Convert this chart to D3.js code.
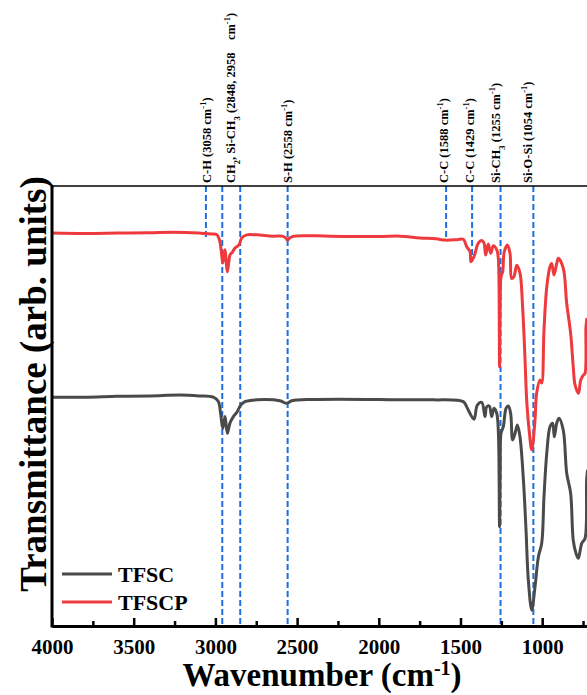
<html lang="en">
<head>
<meta charset="utf-8">
<script src="https://cdn.jsdelivr.net/npm/d3@7/dist/d3.min.js"></script>
<style>
body{margin:0;background:white;}
svg text{font-family:"Liberation Serif","Times New Roman",serif;font-weight:bold;white-space:pre;}
</style>
</head>
<body>
<div id="chart"></div>
<script>
// wavenumber (cm-1) / transmittance (arb. units, 0..100)
const tfscpWn=[4000,3800,3600,3400,3250,3100,3020,2990,2975,2965,2955,2948,2941,2934,2927,2918,2911,2895,2880,2856,2839,2808,2747,2650,2590,2570,2558,2545,2520,2300,2000,1870,1748,1650,1595,1520,1483,1462,1442,1436,1417,1391,1370,1356,1346,1330,1315,1299,1278,1270,1265,1261,1257,1252,1242,1232,1213,1197,1187,1173,1156,1136,1120,1105,1095,1080,1064,1044,1034,1013,1003,989,972,952,942,928,911,901,871,850,826,810,799,778,764,748,738,732,726]
const tfscpT=[89.3,89.2,89.3,89.4,89.5,89.3,89.1,88.9,87.7,85.5,82.5,84.3,85.5,82.7,80.5,82.7,84.3,85.0,85.9,86.6,88.2,88.9,88.9,88.6,88.6,88.2,87.7,88.2,88.6,88.6,88.5,88.6,88.2,88.0,87.7,87.8,87.9,86.2,85.1,82.8,84.0,87.0,87.6,87.0,84.3,86.8,84.7,86.4,85.5,84.1,79.8,58.9,74.1,79.4,80.5,85.1,86.6,84.7,79.0,79.4,82.0,80.2,72.6,60.5,51.4,44.5,40.0,46.8,52.9,55.9,55.2,67.3,77.1,81.7,82.4,79.8,82.4,83.6,81.3,73.3,66.5,58.9,54.8,52.9,55.9,57.0,57.4,68.0,70.0]

const tfscWn=[4000,3800,3600,3400,3216,3100,3013,2982,2968,2955,2941,2927,2911,2890,2870,2845,2819,2747,2605,2564,2533,2400,2000,1870,1666,1483,1462,1442,1417,1397,1370,1350,1340,1324,1309,1295,1278,1268,1261,1257,1252,1238,1221,1207,1193,1181,1166,1152,1136,1115,1099,1085,1064,1044,1023,1003,989,972,952,936,926,911,897,871,850,826,810,793,779,758,738,728,722]
const tfscT=[52.0,52.0,52.2,52.3,52.5,52.3,52.0,51.0,48.3,44.9,47.6,43.8,46.1,47.6,48.5,50.2,51.0,51.4,51.2,50.6,51.2,51.5,51.5,51.4,51.4,51.0,49.8,48.3,47.0,50.2,50.8,47.6,49.8,50.0,47.6,49.5,48.3,43.8,22.6,35.5,43.8,45.3,49.5,50.0,48.3,42.3,43.8,45.7,43.0,33.2,21.8,10.5,3.6,8.9,15.8,18.8,29.4,39.3,45.3,46.1,43.0,46.1,47.2,44.5,34.7,30.2,19.5,16.5,15.4,18.8,19.9,33.2,35.5]

// marker lines: wavenumber and where each dashed line stops (transmittance)
const markWn=[3058,2958,2848,2558,1588,1429,1255,1054]
const markEnd=[88.2,0,0,0,87.7,82.7,0,0]

// assignment labels (_x = subscript, ^-1 = superscript) and their centre wavenumber
const labelText=["C-H (3058 cm^-1)","CH_2, Si-CH_3 (2848, 2958    cm^-1)","S-H (2558 cm^-1)","C-C (1588 cm^-1)","C-C (1429 cm^-1)","Si-CH_3 (1255 cm^-1)","Si-O-Si (1054 cm^-1)"]
const labelWn=[3054,2905,2556,1607,1442,1283,1087]

const majorTicks=[4000,3500,3000,2500,2000,1500,1000]
const minorTicks=[3750,3250,2750,2250,1750,1250,750]
const seriesNames=["TFSC","TFSCP"]
const seriesColors=["#4a4a4a","#ee3a3c"]

const W=587,H=695
const mLeft=52,mTop=186,mBottom=626
const x=d3.scaleLinear().domain([4000,400]).range([mLeft,mLeft+3600*81.7/500])
const y=d3.scaleLinear().domain([0,100]).range([mBottom,mTop])

const svg=d3.select("#chart").append("svg").attr("width",W).attr("height",H)

const plot=svg.append("g")
// dashed markers
plot.selectAll("line.mark").data(markWn).enter().append("line").attr("class","mark")
  .attr("x1",d=>x(d)).attr("x2",d=>x(d))
  .attr("y1",y(100)).attr("y2",(d,i)=>y(markEnd[i]))
  .style("stroke","#1b6fe0").style("stroke-width",2).style("stroke-dasharray","6,3")

const line=d3.line().x(d=>x(d[0])).y(d=>y(d[1])).curve(d3.curveCatmullRom.alpha(0.5))
const series=[d3.zip(tfscWn,tfscT),d3.zip(tfscpWn,tfscpT)]
plot.selectAll("path.spec").data(series).enter().append("path").attr("class","spec")
  .attr("d",line).style("fill","none")
  .style("stroke",(d,i)=>seriesColors[i]).style("stroke-width",3).style("stroke-linejoin","round")

// frame
svg.append("line").attr("x1",mLeft).attr("x2",W).attr("y1",mTop).attr("y2",mTop).style("stroke","black").style("stroke-width",1.5)
svg.append("line").attr("x1",mLeft).attr("x2",mLeft).attr("y1",mTop-0.5).attr("y2",mBottom+1.5).style("stroke","black").style("stroke-width",3)

const ax=svg.append("g").attr("transform","translate(0,"+mBottom+")")
  .call(d3.axisBottom(x).tickValues(majorTicks).tickSize(-8).tickSizeOuter(0).tickPadding(13).tickFormat(d3.format("d")))
ax.attr("font-family","Liberation Serif").attr("font-size",21)
ax.select(".domain").style("stroke-width",3)
ax.selectAll(".tick line").style("stroke-width",2.5)
ax.selectAll(".tick text").style("font-size","21px").style("font-weight","bold").attr("fill","black")
const axm=svg.append("g").attr("transform","translate(0,"+mBottom+")")
  .call(d3.axisBottom(x).tickValues(minorTicks).tickSize(-5).tickSizeOuter(0).tickFormat(""))
axm.select(".domain").remove()
axm.selectAll(".tick line").style("stroke-width",2.5)

// rich text helper
function rich(sel,str,small){
  str.split(/(_\d|\^-1)/).filter(s=>s!="").forEach(s=>{
    if(s[0]=="_"){sel.append("tspan").text(s.slice(1)).style("font-size",small).attr("baseline-shift","sub")}
    else if(s[0]=="^"){sel.append("tspan").text(s.slice(1)).style("font-size",small).attr("baseline-shift","super")}
    else{sel.append("tspan").text(s)}
  })
}

svg.selectAll("text.lab").data(labelText).enter().append("text").attr("class","lab")
  .attr("transform",(d,i)=>"translate("+(x(labelWn[i])+4.5)+","+(mTop-3)+") rotate(-90)")
  .style("font-size","12.5px")
  .each(function(d){rich(d3.select(this),d,"8.5px")})

// axis titles
const xt=svg.append("text").attr("x",322).attr("y",686).attr("text-anchor","middle").style("font-size","33px")
rich(xt,"Wavenumber (cm^-1)","20px")
svg.append("text").attr("transform","translate(46,384) rotate(-90)").attr("text-anchor","middle")
  .style("font-size","37px").text("Transmittance (arb. units)")

// legend
const lg=svg.append("g")
seriesNames.forEach((n,i)=>{
  lg.append("line").attr("x1",62).attr("x2",112).attr("y1",574+i*28).attr("y2",574+i*28)
    .style("stroke",seriesColors[i]).style("stroke-width",3)
  lg.append("text").attr("x",118).attr("y",582+i*28).style("font-size","22px").text(n)
})
</script>
</body>
</html>
